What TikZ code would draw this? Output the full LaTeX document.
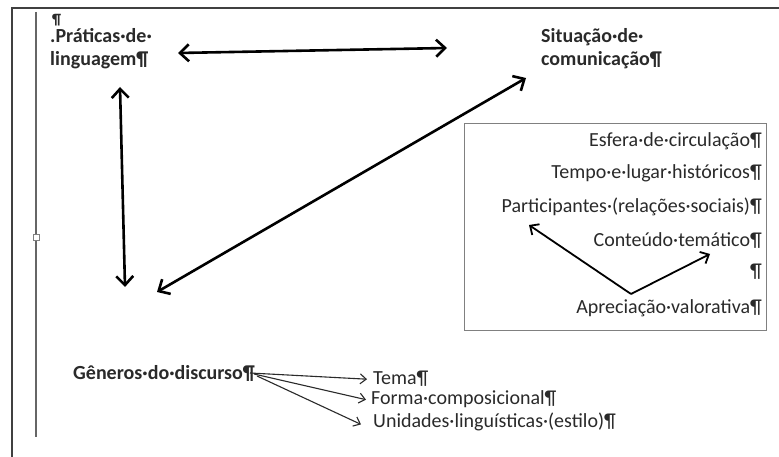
\documentclass[tikz,border=0pt]{standalone}
\usepackage{fontspec}
\setmainfont{Carlito}
\usetikzlibrary{arrows.meta}
\definecolor{txt}{HTML}{2A2A2A}
\definecolor{frame}{HTML}{404040}
\tikzset{
  lbl/.style={inner sep=0pt, text=txt, font=\fontsize{20}{22}\selectfont},
  blbl/.style={inner sep=0pt, text=txt, align=left, font=\bfseries\fontsize{20}{23}\selectfont},
  bigarrow/.style={line width=2.6pt, black, {Straight Barb[length=9pt,width=17pt]}-{Straight Barb[length=9pt,width=17pt]}},
  midarrow/.style={line width=1.8pt, black, -{Straight Barb[length=7pt,width=13pt]}},
  thinarrow/.style={line width=1.1pt, txt, -{Straight Barb[length=6pt,width=10pt]}},
}
\begin{document}
\begin{tikzpicture}[x=1pt,y=-1pt]
\useasboundingbox (0,0) rectangle (779,457);
\fill[white] (0,0) rectangle (779,457);
% page frame
\draw[frame, line width=2pt] (12,457) -- (12,8) -- (779,8);
\draw[frame!80, line width=2pt] (36,12) -- (36,437);
\node[draw=gray, fill=white, line width=0.8pt, minimum size=6pt, inner sep=0pt] (handle) at (36,237) {};
% top-left pilcrow
\node[lbl, font=\bfseries\fontsize{15}{15}\selectfont, anchor=base west] (pil) at (52,25) {¶};
% main nodes
\node[blbl, anchor=base west] (prat) at (50,66) {.Práticas·de·\\linguagem¶};
\node[blbl, anchor=base west] (sit) at (541,66) {Situação·de·\\comunicação¶};
\node[blbl, anchor=base west] (gen) at (73,379) {Gêneros·do·discurso¶};
% box
\node[draw=gray, line width=1.3pt, minimum width=302pt, minimum height=207pt, anchor=north west, inner sep=0pt] (box) at (464,123) {};
\node[lbl, anchor=base east] (esf) at (762,147) {Esfera·de·circulação¶};
\node[lbl, anchor=base east] (tempo) at (762,179) {Tempo·e·lugar·históricos¶};
\node[lbl, anchor=base east] (part) at (762,213) {Participantes·(relações·sociais)¶};
\node[lbl, anchor=base east] (cont) at (762,247) {Conteúdo·temático¶};
\node[lbl, anchor=base east] (empty) at (762,277) {¶};
\node[lbl, anchor=base east] (apr) at (762,313) {Apreciação·valorativa¶};
% bottom list
\node[lbl, anchor=base west] (tema) at (373,384) {Tema¶};
\node[lbl, anchor=base west] (forma) at (371,404) {Forma·composicional¶};
\node[lbl, anchor=base west] (unid) at (373,427) {Unidades·linguísticas·(estilo)¶};
% arrow end points
\coordinate (h1) at (178,53);
\coordinate (h2) at (447,48);
\coordinate (v1) at (120,87);
\coordinate (v2) at (125,287);
\coordinate (d1) at (157,292);
\coordinate (d2) at (526,78);
\coordinate (a0) at (631,294);
\coordinate (a1) at (529,225);
\coordinate (a2) at (710,254);
\draw[bigarrow] (h1) -- (h2);
\draw[bigarrow] (v1) -- (v2);
\draw[bigarrow] (d1) -- (d2);
\draw[midarrow] (a0) -- (a1);
\draw[midarrow] (a0) -- (a2);
% bottom arrows
\coordinate (g1) at (250,373);
\coordinate (g2) at (254,374);
\coordinate (g3) at (257,376);
\draw[thinarrow] (g1) -- ([xshift=-6pt,yshift=-1pt]tema.west);
\draw[thinarrow] (g2) -- ([xshift=-5pt,yshift=-1pt]forma.west);
\draw[thinarrow] (g3) -- ([xshift=-12pt,yshift=-3pt]unid.west);
\end{tikzpicture}
\end{document}
